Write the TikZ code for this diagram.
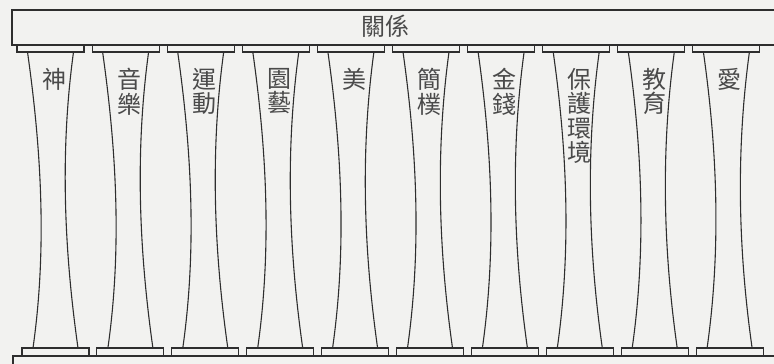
\documentclass[tikz,border=0pt]{standalone}
\usepackage{fontspec}
\newfontfamily\cjk{Noto Sans CJK TC}
\definecolor{paper}{HTML}{F2F2F0}
\definecolor{ink}{HTML}{2E2E2E}
\definecolor{inktext}{HTML}{4A4A4A}

\begin{document}
\begin{tikzpicture}
[x=1pt, y=-1pt,
slab/.style={draw=ink, line width=1.1pt, fill=paper},
shaft/.style={draw=ink, line width=1.1pt},
word/.style={font=\cjk\fontsize{24}{24.5}\selectfont, text=inktext, align=center, inner sep=0pt, anchor=north},
]
\useasboundingbox[fill=paper] (0,0) rectangle (774,364);

% beam and base
\draw[slab] (12,10) rectangle (790,45);
\node[word, anchor=center] (beam) at (385,26) {關係};
\draw[slab] (13,356) rectangle (790,380);

% the ten columns
\foreach \lbl [count=\i from 0] in {神, {音\\樂}, {運\\動}, {園\\藝}, 美, {簡\\樸}, {金\\錢}, {保\\護\\環\\境}, {教\\育}, 愛}
{
  \pgfmathsetmacro\tx{17+75.1*\i}
  \pgfmathsetmacro\bx{22+74.9*\i}
  \draw[slab] (\tx,45) rectangle ++(67,7);
  \draw[slab] (\bx,348) rectangle ++(67,8);
  \draw[shaft] (\tx+10.5,52) .. controls (\tx+24.5,151) and (\bx+25,249) .. (\bx+11,348);
  \draw[shaft] (\tx+56.5,52) .. controls (\tx+43,151) and (\bx+42,249) .. (\bx+56,348);
  \node[word] (lbl\i) at (\tx+37,68) {\lbl};
}
\end{tikzpicture}
\end{document}
